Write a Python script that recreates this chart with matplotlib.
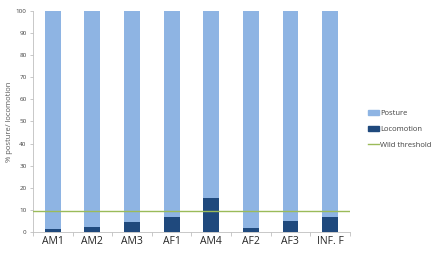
import numpy as np
import matplotlib
matplotlib.use('Agg')
import matplotlib.pyplot as plt
from matplotlib.patches import Patch
from matplotlib.lines import Line2D

plt.rcParams['font.family'] = ['Open Sans', 'DejaVu Sans']

categories = ['AM1', 'AM2', 'AM3', 'AF1', 'AM4', 'AF2', 'AF3', 'INF. F']
locomotion = [1.2, 2.3, 4.5, 6.8, 15.2, 1.8, 5.0, 6.9]
posture = [100 - v for v in locomotion]
wild_threshold = 9.6

fig = plt.figure(figsize=(4.33, 2.54), dpi=100)
ax = fig.add_axes([0.076, 0.087, 0.732, 0.870])

x = np.arange(len(categories))
ax.bar(x, locomotion, width=0.4, color='#1F497D', zorder=2)
ax.bar(x, posture, width=0.4, bottom=locomotion, color='#8EB4E3', zorder=2)
ax.axhline(wild_threshold, color='#9BBB59', linewidth=1, zorder=3)

ax.set_xlim(-0.5, len(categories) - 0.5)
ax.set_ylim(0, 100)
ax.set_yticks(range(0, 101, 10))
ax.set_xticks(x)
ax.set_xticklabels(categories, fontsize=7.5, color='#262626')
ax.set_xticks(np.arange(-0.5, len(categories)), minor=True)
ax.tick_params(axis='x', which='major', length=0, pad=3)
ax.tick_params(axis='x', which='minor', length=3, color='#BFBFBF', width=0.6)
ax.tick_params(axis='y', labelsize=4.5, length=2.5, color='#BFBFBF', width=0.6, pad=2,
               labelcolor='#404040')

for s in ['top', 'right']:
    ax.spines[s].set_visible(False)
for s in ['left', 'bottom']:
    ax.spines[s].set_color('#BFBFBF')
    ax.spines[s].set_linewidth(0.6)

ax.set_ylabel('% posture/ locomotion', fontsize=5.5, color='#595959')
ax.yaxis.set_label_coords(-0.062, 0.5)

handles = [Patch(color='#8EB4E3', label='Posture'),
           Patch(color='#1F497D', label='Locomotion'),
           Line2D([0], [0], color='#9BBB59', linewidth=1, label='Wild threshold')]
fig.legend(handles=handles, loc='center left', bbox_to_anchor=(0.843, 0.49),
           frameon=False, fontsize=5.5, handlelength=1.45, handleheight=0.5,
           handletextpad=0.15, labelspacing=1.15, borderaxespad=0,
           labelcolor='#404040')

fig.savefig('out.png', dpi=100)
